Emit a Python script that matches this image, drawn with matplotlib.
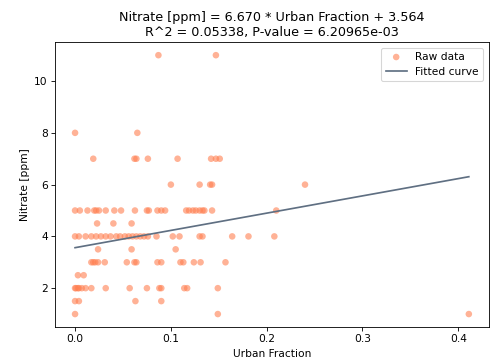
import matplotlib
matplotlib.use("Agg")
import matplotlib.pyplot as plt
import numpy as np

# Sample sites: urban land-use fraction and measured nitrate (ppm)
urban_fraction = [
    # nitrate 11
    0.087, 0.147,
    # nitrate 8
    0.000, 0.065,
    # nitrate 7
    0.019, 0.062, 0.064, 0.076, 0.107, 0.142, 0.147, 0.151,
    # nitrate 6
    0.100, 0.130, 0.141, 0.143, 0.240,
    # nitrate 5
    0.000, 0.005, 0.013, 0.020, 0.022, 0.025, 0.032, 0.041, 0.048, 0.0625,
    0.075, 0.077, 0.086, 0.090, 0.094, 0.116, 0.119, 0.123, 0.126, 0.130,
    0.133, 0.135, 0.143, 0.210,
    # nitrate 4.5
    0.023, 0.040, 0.059,
    # nitrate 4
    0.000, 0.004, 0.011, 0.017, 0.022, 0.027, 0.032, 0.037, 0.043, 0.047,
    0.052, 0.056, 0.060, 0.064, 0.068, 0.072, 0.076, 0.085, 0.102, 0.109,
    0.130, 0.133, 0.164, 0.181, 0.208,
    # nitrate 3.5
    0.024, 0.059, 0.105,
    # nitrate 3
    0.017, 0.019, 0.021, 0.024, 0.031, 0.054, 0.062, 0.064, 0.086, 0.090,
    0.110, 0.113, 0.124, 0.131, 0.157,
    # nitrate 2.5
    0.003, 0.009,
    # nitrate 2
    0.000, 0.001, 0.003, 0.004, 0.007, 0.011, 0.017, 0.032, 0.057, 0.075,
    0.088, 0.090, 0.114, 0.117, 0.149,
    # nitrate 1.5
    0.000, 0.004, 0.063, 0.090,
    # nitrate 1
    0.000, 0.149, 0.411,
]
nitrate = (
    [11] * 2 + [8] * 2 + [7] * 8 + [6] * 5 + [5] * 24 + [4.5] * 3
    + [4] * 25 + [3.5] * 3 + [3] * 15 + [2.5] * 2 + [2] * 15
    + [1.5] * 4 + [1] * 3
)

# Regression results
slope = 6.670
intercept = 3.564
r_squared = 0.05338
p_value = 6.20965e-03

x = np.array(urban_fraction)
y = np.array(nitrate)
x_fit = np.array([x.min(), x.max()])
y_fit = slope * x_fit + intercept

fig = plt.figure(figsize=(6.4, 4.676), dpi=76.5625)
ax = fig.add_axes([0.113, 0.0866, 0.884, 0.7954])

ax.scatter(x, y, color="coral", alpha=0.6, s=38, edgecolors="none", label="Raw data")
ax.plot(x_fit, y_fit, color="#5f6f82", linewidth=1.6, label="Fitted curve")

ax.set_xlabel("Urban Fraction")
ax.set_ylabel("Nitrate [ppm]")
ax.set_title(f"Nitrate [ppm] = {slope:.3f} * Urban Fraction + {intercept:.3f}\n"
             f"R^2 = {r_squared:.5f}, P-value = {p_value:.5e}")
ax.legend(loc="upper right")

fig.savefig("out.png", dpi=76.5625)
